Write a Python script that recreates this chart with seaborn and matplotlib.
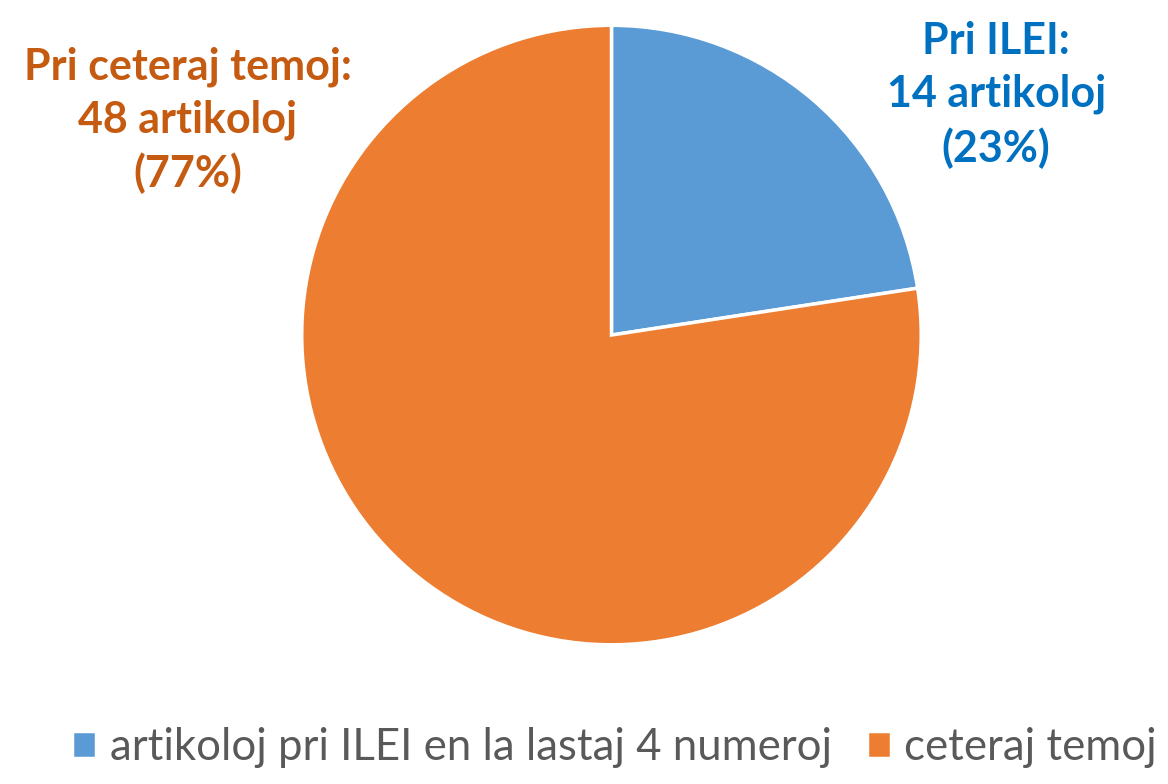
import matplotlib
matplotlib.use("Agg")
import matplotlib.pyplot as plt
import seaborn as sns

# datumoj
kategorioj = ["artikoloj pri ILEI en la lastaj 4 numeroj", "ceteraj temoj"]
valoroj = [14, 48]
etikedoj = ["Pri ILEI:\n14 artikoloj\n(23%)", "Pri ceteraj temoj:\n48 artikoloj\n(77%)"]

sns.set_theme(style="white")
plt.rcParams["font.family"] = ["Lato", "DejaVu Sans"]

koloroj = ["#5B9BD5", "#ED7D31"]
tekstkoloroj = ["#0070C0", "#C55A11"]

fig = plt.figure(figsize=(11.68, 7.84), dpi=100)
ax = fig.add_axes([0.0, 0.0, 1.0, 1.0])

wedges, _ = ax.pie(valoroj, colors=koloroj, startangle=90, counterclock=False,
                   radius=1.0, center=(0, 0),
                   wedgeprops=dict(edgecolor="white", linewidth=2.5))

ax.set_xlim(-1.0 - 302 / 310, 1.0 + (1168 - 921) / 310)
ax.set_ylim(-1.0 - (784 - 645) / 310, 1.0 + 25 / 310)
ax.set_aspect("equal")
ax.axis("off")

# etikedoj
ax.text((996 - 611) / 310, (335 - 95) / 310, etikedoj[0], color=tekstkoloroj[0],
        fontsize=31, fontweight="bold", ha="center", va="center", linespacing=1.38)
ax.text((187 - 611) / 310, (335 - 120) / 310, etikedoj[1], color=tekstkoloroj[1],
        fontsize=31, fontweight="bold", ha="center", va="center", linespacing=1.38)

leg = fig.legend(wedges, kategorioj, loc="lower center", bbox_to_anchor=(0.526, -0.03),
                 ncol=2, frameon=False, fontsize=31.5, handlelength=0.55, handleheight=0.55,
                 handletextpad=0.3, columnspacing=0.8, labelcolor="#595959")

fig.savefig("out.png", dpi=100)
